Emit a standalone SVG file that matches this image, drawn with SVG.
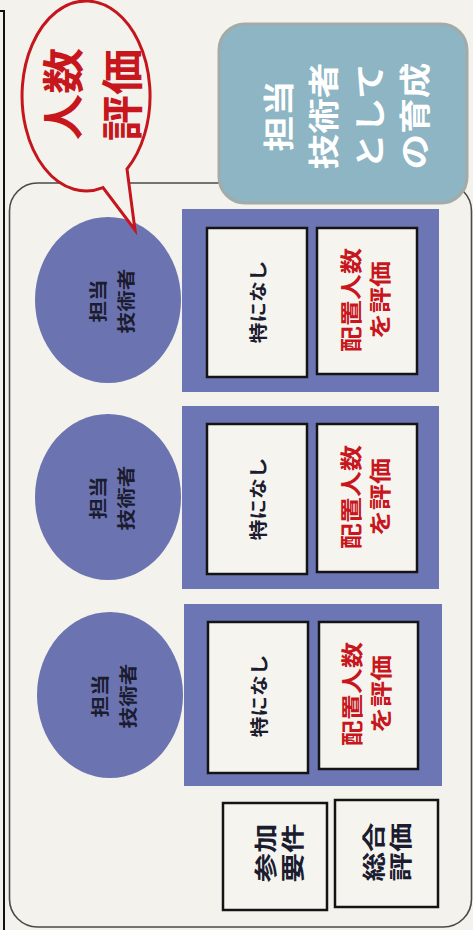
<svg xmlns="http://www.w3.org/2000/svg" width="473" height="930" viewBox="0 0 473 930">
<style>
text{font-family:"Noto Sans CJK JP","Noto Sans",sans-serif;font-weight:700;text-anchor:middle;dominant-baseline:central}
.circ{fill:#6b74b1}
.panel{fill:#6d76b4}
.box{fill:#f5f4ef;stroke:#141414;stroke-width:2.5}
.dk{fill:#1c1c30}
.red{fill:#c8161d}
.wh{fill:#ffffff}
</style>
<rect x="0" y="0" width="473" height="930" fill="#f3f2ec"/>
<path d="M0,11 H4 V930" fill="none" stroke="#111" stroke-width="2"/>
<g id="frame">
<rect x="9.5" y="183" width="462" height="744" rx="28" fill="none" stroke="#4a4a4a" stroke-width="1.6"/>
</g>
<g id="title">
<rect x="219" y="24" width="248" height="179" rx="26" fill="#8db5c3" stroke="#a4aaa8" stroke-width="3"/>
<text class="wh" font-size="31" transform="translate(277,116) rotate(-90) scale(1.15,1)">担当</text>
<text class="wh" font-size="31" transform="translate(322,116) rotate(-90) scale(1.15,1)">技術者</text>
<text class="wh" font-size="31" transform="translate(368,116) rotate(-90) scale(1.15,1)">として</text>
<text class="wh" font-size="31" transform="translate(413,116) rotate(-90) scale(1.15,1)">の育成</text>
</g>
<g id="node1">
<ellipse class="circ" cx="108" cy="300" rx="73" ry="83"/>
<text class="dk" font-size="18" transform="translate(97,301) rotate(-90) scale(1.2,1)">担当</text>
<text class="dk" font-size="18" transform="translate(125,301) rotate(-90) scale(1.2,1)">技術者</text>
<rect class="panel" x="182" y="209" width="257" height="183"/>
<rect class="box" x="207" y="228" width="100" height="149"/>
<rect class="box" x="317" y="228" width="100" height="146"/>
<text class="dk" font-size="18" transform="translate(258,302) rotate(-90) scale(1.15,1)">特になし</text>
<text class="red" font-size="22" transform="translate(349,300) rotate(-90) scale(1.18,1)">配置人数</text>
<text class="red" font-size="22" transform="translate(378,300) rotate(-90) scale(1.18,1)">を評価</text>
</g>
<g id="node2">
<ellipse class="circ" cx="108" cy="497" rx="73" ry="83"/>
<text class="dk" font-size="18" transform="translate(97,498) rotate(-90) scale(1.2,1)">担当</text>
<text class="dk" font-size="18" transform="translate(125,498) rotate(-90) scale(1.2,1)">技術者</text>
<rect class="panel" x="182" y="406" width="257" height="183"/>
<rect class="box" x="207" y="424" width="100" height="150"/>
<rect class="box" x="317" y="424" width="100" height="148"/>
<text class="dk" font-size="18" transform="translate(258,499) rotate(-90) scale(1.15,1)">特になし</text>
<text class="red" font-size="22" transform="translate(349,497) rotate(-90) scale(1.18,1)">配置人数</text>
<text class="red" font-size="22" transform="translate(378,497) rotate(-90) scale(1.18,1)">を評価</text>
</g>
<g id="node3">
<ellipse class="circ" cx="110" cy="695" rx="73" ry="83"/>
<text class="dk" font-size="18" transform="translate(99,696) rotate(-90) scale(1.2,1)">担当</text>
<text class="dk" font-size="18" transform="translate(127,696) rotate(-90) scale(1.2,1)">技術者</text>
<rect class="panel" x="184" y="604" width="258" height="182"/>
<rect class="box" x="208" y="622" width="100" height="151"/>
<rect class="box" x="319" y="622" width="99" height="147"/>
<text class="dk" font-size="18" transform="translate(259,696) rotate(-90) scale(1.15,1)">特になし</text>
<text class="red" font-size="22" transform="translate(350,694) rotate(-90) scale(1.18,1)">配置人数</text>
<text class="red" font-size="22" transform="translate(379,694) rotate(-90) scale(1.18,1)">を評価</text>
</g>
<g id="requirement">
<rect class="box" x="223" y="803" width="104" height="107"/>
<text class="dk" font-size="23" transform="translate(264,853) rotate(-90) scale(1.28,1)">参加</text>
<text class="dk" font-size="23" transform="translate(291,853) rotate(-90) scale(1.28,1)">要件</text>
</g>
<g id="overall">
<rect class="box" x="335" y="800" width="103" height="107"/>
<text class="dk" font-size="23" transform="translate(372,852) rotate(-90) scale(1.28,1)">総合</text>
<text class="dk" font-size="23" transform="translate(399,852) rotate(-90) scale(1.28,1)">評価</text>
</g>
<g id="callout">
<path d="M103,187.6 A64,95 0 1 1 127,169 L135,230 Z" fill="#f3f2ec" stroke="#c4161c" stroke-width="3" stroke-linejoin="miter"/>
<text class="red" font-size="42" transform="translate(61,94) rotate(-90) scale(1.1,1)">人数</text>
<text class="red" font-size="42" transform="translate(120,95) rotate(-90) scale(1.1,1)">評価</text>
</g>
</svg>
